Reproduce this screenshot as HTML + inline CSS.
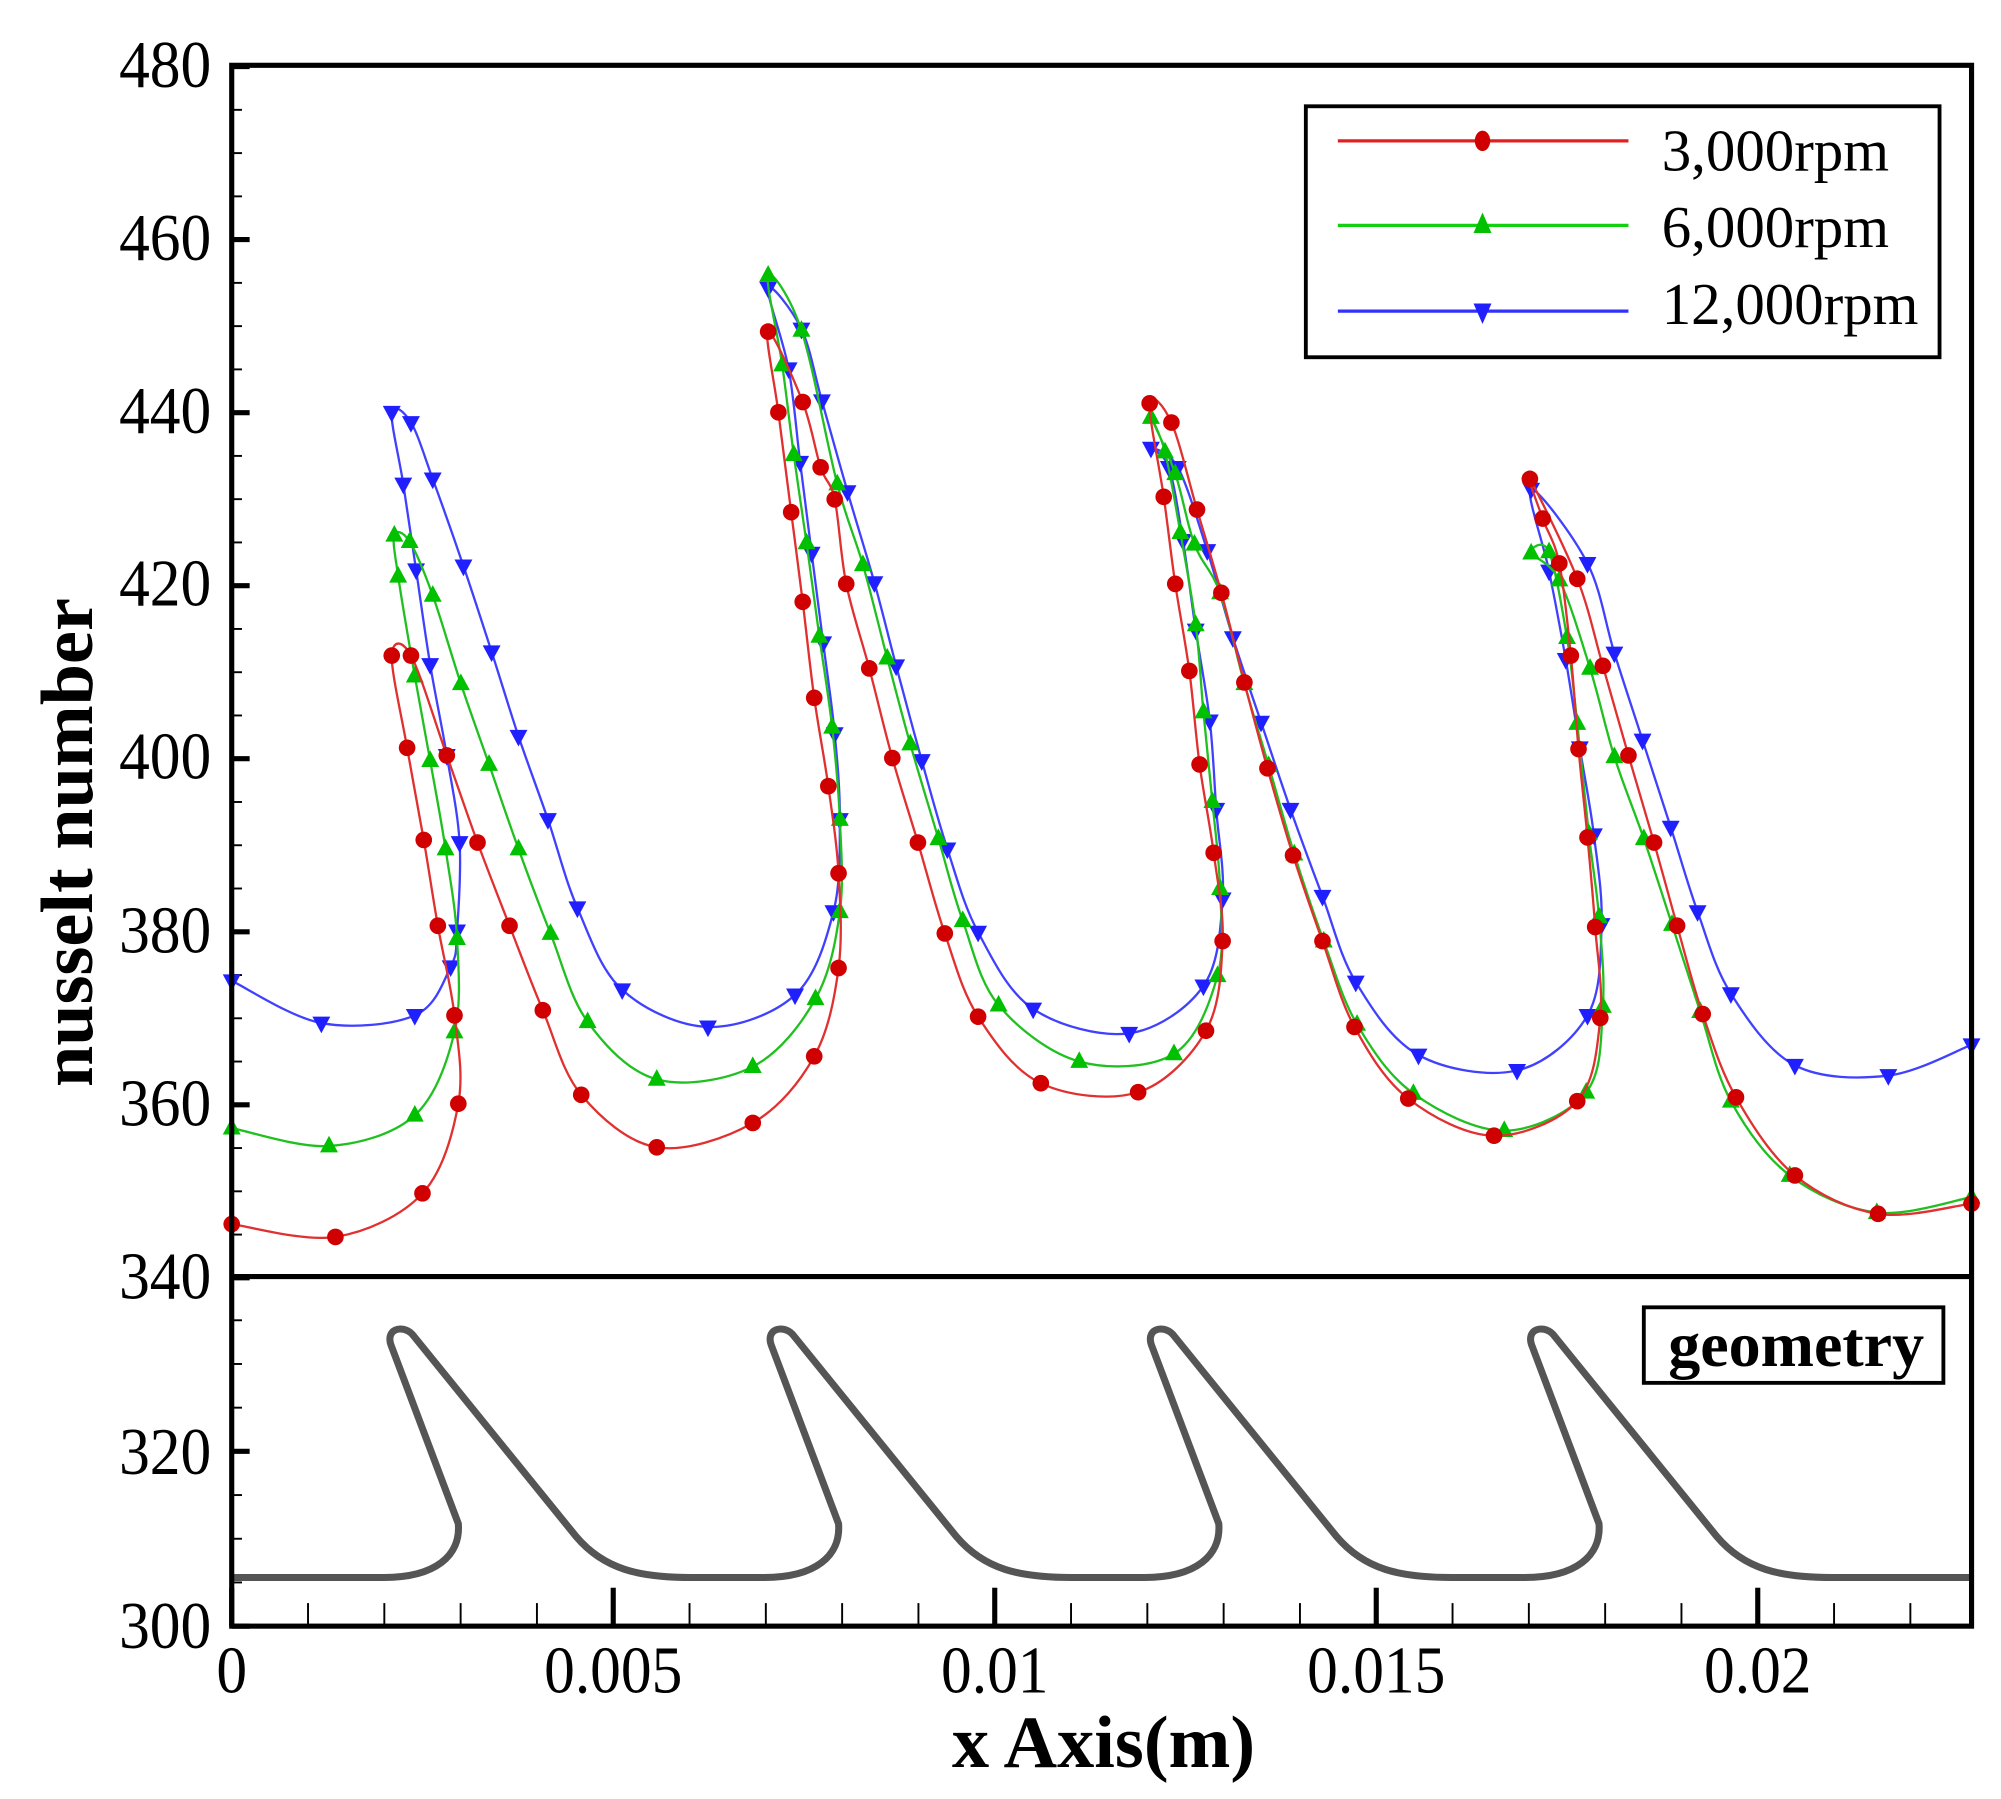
<!DOCTYPE html>
<html><head><meta charset="utf-8"><style>
html,body{margin:0;padding:0;background:#fff;}
svg{display:block;}
text{font-family:"Liberation Serif",serif;fill:#000;}
</style></head><body>
<svg id="s" width="2001" height="1799" viewBox="0 0 1563 1405" preserveAspectRatio="none" xmlns="http://www.w3.org/2000/svg">
<rect width="1563" height="1405" fill="#fff"/>
<g id="ticks" stroke="#000"></g>
<g id="data"></g>
<path fill="none" stroke="#555" stroke-width="5.5" d="M181,1232 L300,1232 C340,1232 360,1215 358,1190 L306,1052 C300,1038 314,1034 322,1042 L450,1200 C472,1226 500,1232 540,1232
L597,1232 C637,1232 657,1215 655,1190 L603,1052 C597,1038 611,1034 619,1042 L747,1200 C769,1226 797,1232 837,1232
L894,1232 C934,1232 954,1215 952,1190 L900,1052 C894,1038 908,1034 916,1042 L1044,1200 C1066,1226 1094,1232 1134,1232
L1191,1232 C1231,1232 1251,1215 1249,1190 L1197,1052 C1191,1038 1205,1034 1213,1042 L1341,1200 C1363,1226 1391,1232 1431,1232 L1540,1232"/>
<rect x="181" y="51" width="1359" height="1219" fill="none" stroke="#000" stroke-width="4"/>
<line x1="181" y1="997" x2="1540" y2="997" stroke="#000" stroke-width="4"/>
<g font-size="48" text-anchor="end">
<text transform="translate(165,68) scale(1,1.08)">480</text><text transform="translate(165,203) scale(1,1.08)">460</text><text transform="translate(165,338) scale(1,1.08)">440</text>
<text transform="translate(165,473) scale(1,1.08)">420</text><text transform="translate(165,608) scale(1,1.08)">400</text><text transform="translate(165,744) scale(1,1.08)">380</text>
<text transform="translate(165,879) scale(1,1.08)">360</text><text transform="translate(165,1014) scale(1,1.08)">340</text><text transform="translate(165,1151) scale(1,1.08)">320</text>
<text transform="translate(165,1287) scale(1,1.08)">300</text>
</g>
<g font-size="48" text-anchor="middle">
<text transform="translate(181,1322) scale(1,1.08)">0</text><text transform="translate(479,1322) scale(1,1.08)">0.005</text><text transform="translate(777,1322) scale(1,1.08)">0.01</text>
<text transform="translate(1075,1322) scale(1,1.08)">0.015</text><text transform="translate(1373,1322) scale(1,1.08)">0.02</text>
</g>
<text x="862" y="1380" font-size="58" font-weight="bold" text-anchor="middle">x Axis(m)</text>
<text transform="translate(72,658) rotate(-90)" font-size="58" font-weight="bold" text-anchor="middle">nusselt number</text>
<rect x="1020" y="83" width="495" height="196" fill="#fff" stroke="#000" stroke-width="3"/>
<line x1="1045" y1="110" x2="1272" y2="110" stroke="#e02020" stroke-width="2.5"/>
<line x1="1045" y1="176" x2="1272" y2="176" stroke="#10d010" stroke-width="2.5"/>
<line x1="1045" y1="243" x2="1272" y2="243" stroke="#3030ff" stroke-width="2.5"/>
<ellipse cx="1158" cy="110" rx="6" ry="8" fill="#d00000"/>
<polygon points="1151,182 1165,182 1158,166" fill="#00c000"/>
<polygon points="1151,237 1165,237 1158,253" fill="#2020ff"/>
<g font-size="46"><text x="1298" y="133">3,000rpm</text><text x="1298" y="193">6,000rpm</text><text x="1298" y="253">12,000rpm</text></g>
<rect x="1284" y="1021" width="234" height="59" fill="#fff" stroke="#000" stroke-width="3"/>
<text x="1403" y="1067" font-size="50" font-weight="bold" text-anchor="middle">geometry</text>
</svg>
<script>
var NS="http://www.w3.org/2000/svg";
var tk=document.getElementById('ticks'),dg=document.getElementById('data');
function ln(x1,y1,x2,y2,w){var l=document.createElementNS(NS,'line');l.setAttribute('x1',x1);l.setAttribute('y1',y1);l.setAttribute('x2',x2);l.setAttribute('y2',y2);l.setAttribute('stroke-width',w);tk.appendChild(l);}
for(var v=340;v<=480;v+=5){var y=52+(480-v)*6.757;var maj=(v%20==0);ln(181,y,181+(maj?14:8),y,maj?4:1.5);}
for(var v=300;v<=340;v+=5){var y=1270-(v-300)*6.825;var maj=(v%20==0);ln(181,y,181+(maj?14:8),y,maj?4:1.5);}
for(var i=0;i<=22;i++){var x=181+i*59.6;var maj=(i%5==0);ln(x,1270,x,1270-(maj?30:18),maj?4:1.5);}
function path(p){var d="M"+p[0][0]+","+p[0][1];for(var i=0;i<p.length-1;i++){var p0=p[Math.max(0,i-1)],p1=p[i],p2=p[i+1],p3=p[Math.min(p.length-1,i+2)];var t=6;d+=" C"+(p1[0]+(p2[0]-p0[0])/t)+","+(p1[1]+(p2[1]-p0[1])/t)+" "+(p2[0]-(p3[0]-p1[0])/t)+","+(p2[1]-(p3[1]-p1[1])/t)+" "+p2[0]+","+p2[1];}return d;}
function series(p,col,mcol,type){var e=document.createElementNS(NS,'path');e.setAttribute('d',path(p));e.setAttribute('fill','none');e.setAttribute('stroke',col);e.setAttribute('stroke-width','1.8');dg.appendChild(e);
p.forEach(function(q,k){var m;if(type==0){m=document.createElementNS(NS,'circle');m.setAttribute('cx',q[0]);m.setAttribute('cy',q[1]);m.setAttribute('r',6.5);}else{m=document.createElementNS(NS,'polygon');var x=q[0],y=q[1];m.setAttribute('points',type==1?(x-7)+","+(y+5)+" "+(x+7)+","+(y+5)+" "+x+","+(y-8):(x-7)+","+(y-5)+" "+(x+7)+","+(y-5)+" "+x+","+(y+8));}m.setAttribute('fill',mcol);dg.appendChild(m);});}
var blue=[[181,766],[251,799],[324,793],[352,755],[357,727],[359,658],[349,590],[336,519],[325,445],[315,378],[306,322],[321,330],[338,374],[362,442],[384,509],[405,575],[428,640],[451,709],[486,773],[553,802],[621,777],[651,712],[656,640],[652,573],[643,502],[634,432],[625,361],[616,288],[600,225],[626,257],[642,313],[662,384],[683,455],[700,520],[720,594],[740,663],[764,728],[807,788],[882,807],[940,770],[955,702],[950,632],[945,563],[934,492],[924,422],[913,365],[899,350],[920,365],[943,430],[963,498],[985,564],[1008,632],[1033,700],[1059,767],[1108,824],[1185,836],[1240,793],[1251,722],[1245,652],[1234,584],[1223,515],[1210,446],[1196,382],[1240,440],[1261,510],[1283,578],[1305,646],[1326,712],[1352,776],[1402,832],[1475,840],[1540,816]];
var green=[[181,881],[257,895],[324,871],[355,806],[357,733],[348,663],[336,594],[324,528],[311,450],[308,418],[320,423],[338,465],[360,534],[382,597],[405,663],[430,729],[459,798],[513,843],[588,833],[637,780],[656,712],[656,640],[650,568],[640,497],[630,424],[620,355],[611,285],[600,215],[626,258],[654,378],[674,441],[693,514],[711,581],[733,655],[752,719],[780,785],[843,829],[917,823],[951,762],[953,694],[947,626],[940,556],[934,488],[922,416],[910,353],[899,326],[918,370],[933,425],[953,463],[972,534],[991,598],[1011,667],[1034,735],[1060,800],[1104,854],[1175,883],[1239,853],[1252,786],[1249,716],[1241,651],[1232,565],[1224,498],[1210,431],[1196,432],[1218,453],[1242,522],[1261,591],[1284,655],[1306,722],[1328,790],[1352,860],[1398,918],[1466,947],[1540,935]];
var red=[[181,956],[262,966],[330,932],[358,862],[355,793],[342,723],[331,656],[318,584],[306,512],[321,512],[349,590],[373,658],[398,723],[424,789],[454,855],[513,896],[588,877],[636,825],[655,756],[655,682],[647,614],[636,545],[627,470],[618,400],[608,322],[600,259],[627,314],[641,365],[652,390],[661,456],[679,522],[697,592],[717,658],[738,729],[764,794],[813,846],[889,853],[942,805],[955,735],[948,666],[937,597],[929,524],[918,456],[909,388],[898,315],[915,330],[935,398],[954,463],[972,533],[990,600],[1010,668],[1033,735],[1058,802],[1100,858],[1167,887],[1232,860],[1250,795],[1246,724],[1240,654],[1233,585],[1227,512],[1218,440],[1205,405],[1195,374],[1232,452],[1252,520],[1272,590],[1292,658],[1310,723],[1330,792],[1356,857],[1402,918],[1467,948],[1540,940]];
series(blue,'#4040ff','#2020ff',2);
series(green,'#20c020','#00c000',1);
series(red,'#e03030','#d00000',0);
</script>
</body></html>
